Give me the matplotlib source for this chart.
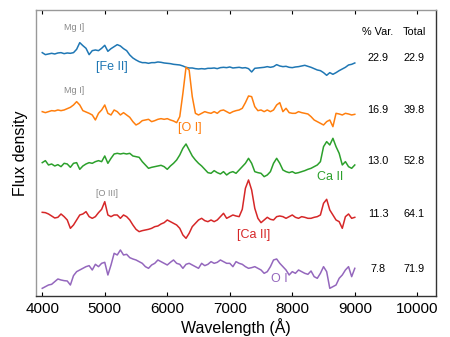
import numpy as np
import matplotlib
matplotlib.use("Agg")
import matplotlib.pyplot as plt

plt.rcParams["font.family"] = ["Liberation Sans", "DejaVu Sans"]

# wavelength grid (Angstrom), 50 A steps
wave = np.arange(4000, 9001, 50)

# relative flux of each component (arbitrary units)
comp1 = [182, 176, 178, 180, 178, 181, 182, 179, 181, 180,
         182, 192, 212, 203, 195, 176, 188, 190, 188, 195,
         204, 186, 194, 200, 206, 202, 194, 188, 175, 166,
         160, 155, 152, 152, 150, 152, 152, 154, 153, 151,
         150, 149, 147, 146, 145, 142, 138, 136, 136, 134,
         133, 134, 133, 135, 135, 136, 134, 137, 138, 137,
         139, 136, 137, 138, 136, 137, 134, 124, 135, 136,
         137, 138, 140, 138, 140, 146, 142, 140, 141, 138,
         137, 139, 140, 142, 144, 141, 138, 134, 130, 128,
         122, 114, 122, 117, 122, 128, 133, 138, 145, 147,
         151]
comp2 = [95, 92, 95, 98, 97, 100, 98, 100, 104, 108,
         115, 125, 115, 98, 94, 90, 85, 70, 90, 100,
         115, 90, 85, 100, 95, 85, 92, 85, 78, 65,
         55, 60, 68, 70, 72, 65, 68, 72, 74, 72,
         74, 70, 67, 62, 80, 150, 228, 220, 140, 90,
         85, 90, 95, 92, 90, 95, 90, 98, 100, 95,
         90, 95, 98, 100, 105, 122, 142, 140, 110, 98,
         100, 95, 100, 95, 100, 115, 122, 95, 105, 92,
         90, 90, 95, 92, 90, 88, 80, 70, 65, 60,
         55, 65, 70, 50, 90, 88, 85, 90, 88, 85,
         87]
comp3 = [152, 158, 145, 148, 142, 146, 140, 150, 148, 138,
         150, 152, 132, 142, 148, 152, 150, 155, 158, 155,
         172, 150, 165, 178, 180, 178, 180, 178, 180, 172,
         170, 168, 155, 145, 135, 138, 140, 142, 144, 140,
         132, 142, 150, 160, 175, 195, 208, 190, 172, 160,
         150, 142, 132, 122, 120, 128, 122, 118, 125, 115,
         122, 125, 120, 130, 140, 150, 165, 150, 125, 122,
         120, 110, 115, 125, 150, 165, 150, 130, 125, 122,
         125, 120, 122, 125, 128, 132, 135, 140, 145, 155,
         200, 215, 205, 225, 200, 180, 145, 155, 140, 135,
         145]
comp4 = [123, 122, 118, 112, 106, 108, 118, 110, 100, 75,
         85, 100, 115, 118, 125, 110, 105, 110, 122, 132,
         155, 115, 110, 115, 115, 105, 115, 110, 100, 85,
         72, 65, 68, 70, 72, 75, 80, 82, 88, 92,
         100, 95, 90, 85, 75, 55, 45, 60, 80, 90,
         100, 105, 98, 95, 100, 95, 100, 110, 120, 105,
         110, 115, 112, 110, 132, 195, 220, 190, 135, 105,
         92, 100, 108, 102, 100, 110, 112, 110, 105, 110,
         115, 108, 105, 110, 108, 105, 105, 108, 110, 115,
         150, 162, 130, 115, 100, 95, 75, 110, 118, 105,
         108]
comp5 = [90, 95, 100, 102, 110, 118, 115, 113, 112, 100,
         128, 140, 145, 150, 155, 158, 145, 162, 155, 165,
         168, 130, 160, 195, 190, 205, 190, 192, 182, 178,
         175, 170, 165, 155, 150, 160, 165, 175, 170, 165,
         160, 168, 175, 165, 162, 150, 162, 165, 160, 155,
         150, 165, 158, 162, 170, 165, 168, 175, 170, 165,
         165, 155, 170, 165, 162, 155, 150, 152, 155, 150,
         145, 135, 140, 155, 175, 178, 165, 155, 145, 130,
         140, 135, 145, 140, 135, 132, 142, 125, 120, 135,
         155, 140, 90, 95, 100, 120, 130, 145, 155, 125,
         150]

components = [comp1, comp2, comp3, comp4, comp5]
offsets = [548, 458, 248, 128, -67]
colors = ["#1f77b4", "#ff7f0e", "#2ca02c", "#d62728", "#9467bd"]

pct_var = [22.9, 16.9, 13.0, 11.3, 7.8]
total = np.cumsum(pct_var)
row_y = [0.832, 0.650, 0.472, 0.288, 0.094]

# line identifications: (text, wavelength, flux, color, size)
lines = [
    ("Mg I]", 4512, 804, "#888888", 6.5),
    ("Mg I]", 4512, 615, "#888888", 6.5),
    ("[Fe II]", 5120, 687, colors[0], 9),
    ("[O I]", 6368, 504, colors[1], 9),
    ("Ca II", 8608, 357, colors[2], 9),
    ("[O III]", 5040, 306, "#888888", 6.5),
    ("[Ca II]", 7376, 183, colors[3], 9),
    ("O I", 7792, 51, colors[4], 9),
]

fig = plt.figure(figsize=(4.5, 3.37), dpi=100)
ax = fig.add_axes([0.08, 0.1217, 0.889, 0.8487])

for comp, off, c in zip(components, offsets, colors):
    ax.plot(wave, np.array(comp) + off, color=c, lw=1.1)

for txt, x, y, c, s in lines:
    ax.text(x, y, txt, color=c, fontsize=s, ha="center", va="center")

ax.text(0.855, 0.923, "% Var.", transform=ax.transAxes, ha="center", va="center", fontsize=7.8)
ax.text(0.945, 0.923, "Total", transform=ax.transAxes, ha="center", va="center", fontsize=7.8)
for v, t, y in zip(pct_var, total, row_y):
    ax.text(0.855, y, f"{v:.1f}", transform=ax.transAxes, ha="center", va="center", fontsize=7.8)
    ax.text(0.945, y, f"{t:.1f}", transform=ax.transAxes, ha="center", va="center", fontsize=7.8)

ax.set_xlim(3900, 10300)
ax.set_ylim(0, 858)
ax.set_xticks(np.arange(4000, 10001, 1000))
ax.set_yticks([])
ax.tick_params(axis="x", direction="in", top=True, length=3, width=0.8, labelsize=11, pad=4)
ax.set_xlabel("Wavelength (Å)", fontsize=11.5, labelpad=2)
ax.set_ylabel("Flux density", fontsize=11.5, labelpad=6)

ax.spines["left"].set_color("#999999")
ax.spines["top"].set_color("#999999")
ax.spines["right"].set_color("#333333")
ax.spines["bottom"].set_color("#333333")
for s in ax.spines.values():
    s.set_linewidth(1.0)

fig.savefig("out.png", dpi=100)
